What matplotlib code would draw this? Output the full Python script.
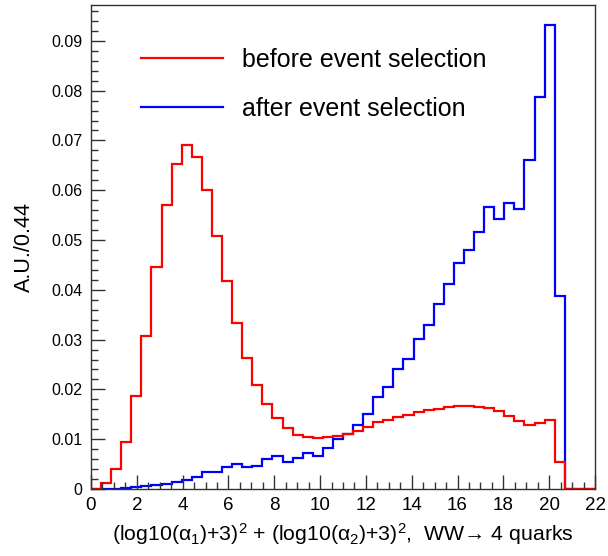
import numpy as np
import matplotlib
matplotlib.use("Agg")
import matplotlib.pyplot as plt
from matplotlib.ticker import MultipleLocator, FixedLocator
from matplotlib.lines import Line2D

plt.rcParams['font.family'] = ['Liberation Sans', 'DejaVu Sans']
plt.rcParams['mathtext.fontset'] = 'custom'
plt.rcParams['mathtext.rm'] = 'Liberation Sans'
plt.rcParams['mathtext.it'] = 'Liberation Sans'
plt.rcParams['mathtext.default'] = 'regular'

# 50 bins of width 0.44 from 0 to 22
bin_edges = np.linspace(0, 22, 51)

before_sel = [
    0.0001, 0.0013, 0.0040, 0.0095, 0.0186, 0.0307, 0.0446, 0.0571, 0.0653, 0.0690,
    0.0667, 0.0600, 0.0509, 0.0418, 0.0334, 0.0263, 0.0208, 0.0170, 0.0143, 0.0123,
    0.0108, 0.0104, 0.0103, 0.0105, 0.0106, 0.0111, 0.0117, 0.0125, 0.0134, 0.0138,
    0.0144, 0.0149, 0.0154, 0.0158, 0.0161, 0.0164, 0.0166, 0.0166, 0.0165, 0.0163,
    0.0156, 0.0146, 0.0137, 0.0128, 0.0133, 0.0138, 0.0054, 0.0, 0.0, 0.0,
]

after_sel = [
    0.0, 0.0, 0.0001, 0.0003, 0.0004, 0.0006, 0.0008, 0.0010, 0.0014, 0.0019,
    0.0025, 0.0035, 0.0035, 0.0045, 0.0051, 0.0045, 0.0047, 0.0061, 0.0067, 0.0054,
    0.0062, 0.0073, 0.0067, 0.0083, 0.0101, 0.0111, 0.0128, 0.0150, 0.0184, 0.0205,
    0.0240, 0.0261, 0.0301, 0.0329, 0.0372, 0.0411, 0.0454, 0.0479, 0.0517, 0.0567,
    0.0542, 0.0575, 0.0563, 0.0661, 0.0788, 0.0931, 0.0387, 0.0, 0.0, 0.0,
]

labels = ["before event selection", "after event selection"]
x_ticks = list(range(0, 23, 2))
y_ticks = [0.0, 0.01, 0.02, 0.03, 0.04, 0.05, 0.06, 0.07, 0.08, 0.09]
y_tick_labels = ["0", "0.01", "0.02", "0.03", "0.04", "0.05", "0.06", "0.07", "0.08", "0.09"]

fig = plt.figure(figsize=(6.08, 5.56), dpi=100)
ax = fig.add_axes([91 / 608, 1 - 489 / 556, 504 / 608, 484 / 556])

ax.stairs(after_sel, bin_edges, color="#0000ff", lw=1.6, baseline=0)
ax.stairs(before_sel, bin_edges, color="#ff0000", lw=1.6, baseline=0)

ax.set_xlim(0, 22)
ax.set_ylim(0, 0.0972)

ax.xaxis.set_major_locator(FixedLocator(x_ticks))
ax.xaxis.set_minor_locator(MultipleLocator(0.5))
ax.set_yticks(y_ticks)
ax.set_yticklabels(y_tick_labels)
ax.yaxis.set_minor_locator(MultipleLocator(0.002))

ax.tick_params(which="both", direction="in", top=False, right=False, color="#333333")
ax.tick_params(which="major", length=10, width=1)
ax.tick_params(which="minor", length=5, width=1)
ax.tick_params(axis="x", which="major", labelsize=13.5, pad=6)
ax.tick_params(axis="y", which="major", labelsize=11.5, pad=6)

for sp in ax.spines.values():
    sp.set_color("#333333")
    sp.set_linewidth(1)

ax.set_xlabel(r"(log10($\alpha_1$)+3)$^2$ + (log10($\alpha_2$)+3)$^2$,  WW→ 4 quarks",
              fontsize=15.3, labelpad=5)
ax.set_ylabel("A.U./0.44", fontsize=15.5, labelpad=12)

handles = [Line2D([], [], color="#ff0000", lw=1.6), Line2D([], [], color="#0000ff", lw=1.6)]
ax.legend(handles, labels, loc="upper left", bbox_to_anchor=(0.099, 0.912), frameon=False,
          fontsize=18, handlelength=3.3, handletextpad=0.76, labelspacing=1.02,
          borderaxespad=0, borderpad=0)

fig.savefig("out.png", dpi=100)
